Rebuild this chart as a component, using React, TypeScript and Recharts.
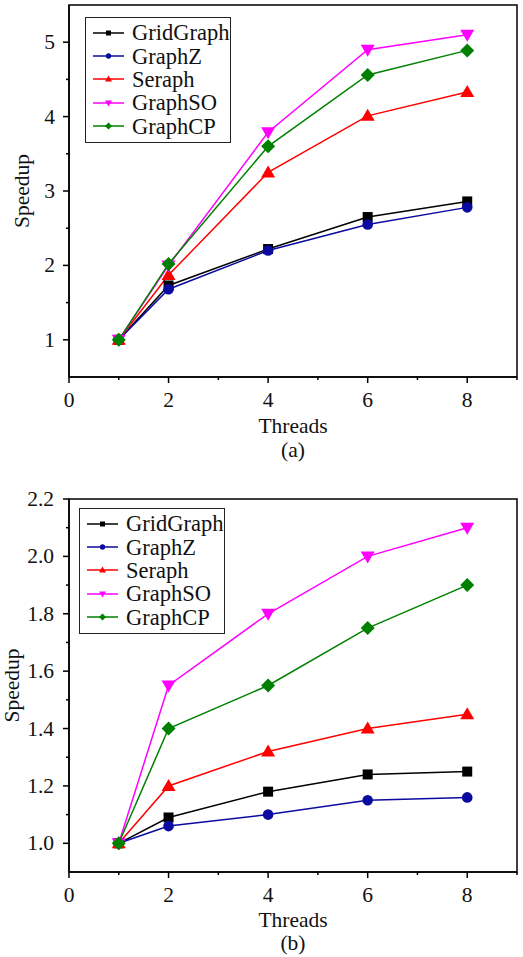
import React from "react";
import { LineChart, Line, XAxis, YAxis, Legend, ReferenceArea } from "recharts";

const FONT = '"Liberation Serif", "Times New Roman", serif';
const INK = "#111";

const threads = [1, 2, 4, 6, 8];

// panel (a)
const gridGraphA = [1.0, 1.73, 2.22, 2.65, 2.86];
const graphZA = [1.0, 1.68, 2.2, 2.55, 2.78];
const seraphA = [1.0, 1.87, 3.25, 4.01, 4.33];
const graphSOA = [1.0, 2.0, 3.79, 4.9, 5.1];
const graphCPA = [1.0, 2.02, 3.6, 4.56, 4.89];

// panel (b)
const gridGraphB = [1.0, 1.09, 1.18, 1.24, 1.25];
const graphZB = [1.0, 1.06, 1.1, 1.15, 1.16];
const seraphB = [1.0, 1.2, 1.32, 1.4, 1.45];
const graphSOB = [1.0, 1.55, 1.8, 2.0, 2.1];
const graphCPB = [1.0, 1.4, 1.55, 1.75, 1.9];

const xTicks = [0, 1, 2, 3, 4, 5, 6, 7, 8, 9];
const xLabels = [0, 2, 4, 6, 8];
const yTicksA = [1, 1.5, 2, 2.5, 3, 3.5, 4, 4.5, 5];
const yLabelsA = [1, 2, 3, 4, 5];
const yTicksB = [1.0, 1.1, 1.2, 1.3, 1.4, 1.5, 1.6, 1.7, 1.8, 1.9, 2.0, 2.1, 2.2];
const yLabelsB = [1.0, 1.2, 1.4, 1.6, 1.8, 2.0, 2.2];

type Shape = "square" | "circle" | "up" | "down" | "diamond";

const series: { key: string; name: string; color: string; shape: Shape }[] = [
  { key: "gridGraph", name: "GridGraph", color: "#000000", shape: "square" },
  { key: "graphZ", name: "GraphZ", color: "#0a0aa0", shape: "circle" },
  { key: "seraph", name: "Seraph", color: "#ff0000", shape: "up" },
  { key: "graphSO", name: "GraphSO", color: "#ff00ff", shape: "down" },
  { key: "graphCP", name: "GraphCP", color: "#008000", shape: "diamond" },
];

function buildRows(cols: number[][]) {
  return threads.map((t, i) => {
    const row: Record<string, number> = { threads: t };
    series.forEach((s, j) => (row[s.key] = cols[j][i]));
    return row;
  });
}

const rowsA = buildRows([gridGraphA, graphZA, seraphA, graphSOA, graphCPA]);
const rowsB = buildRows([gridGraphB, graphZB, seraphB, graphSOB, graphCPB]);

function Marker({ cx, cy, shape, color, s = 1 }: { cx: number; cy: number; shape: Shape; color: string; s?: number }) {
  if (shape === "square")
    return <rect x={cx - 5 * s} y={cy - 5 * s} width={10 * s} height={10 * s} fill={color} />;
  if (shape === "circle") return <circle cx={cx} cy={cy} r={5.3 * s} fill={color} />;
  let pts = "";
  if (shape === "up") pts = `${cx},${cy - 7 * s} ${cx + 7 * s},${cy + 5 * s} ${cx - 7 * s},${cy + 5 * s}`;
  if (shape === "down") pts = `${cx - 7 * s},${cy - 5 * s} ${cx + 7 * s},${cy - 5 * s} ${cx},${cy + 7 * s}`;
  if (shape === "diamond") pts = `${cx},${cy - 7 * s} ${cx + 7 * s},${cy} ${cx},${cy + 7 * s} ${cx - 7 * s},${cy}`;
  return <polygon points={pts} fill={color} />;
}

function XTick({ x, y, payload }: any) {
  const v = payload.value;
  const major = xLabels.includes(v);
  return (
    <g>
      <line x1={x} x2={x} y1={y} y2={y + (major ? 6 : 3)} stroke="#000" strokeWidth={1.5} />
      {major && (
        <text x={x} y={y + 30} textAnchor="middle" fontSize={21.5} fontFamily={FONT} fill={INK}>
          {v}
        </text>
      )}
    </g>
  );
}

function makeYTick(labels: number[], digits: number, gap: number) {
  return function YTick({ x, y, payload }: any) {
    const v = Number(payload.value);
    const major = labels.some((l) => Math.abs(l - v) < 1e-6);
    return (
      <g>
        <line x1={x} x2={x - (major ? 6 : 3)} y1={y} y2={y} stroke="#000" strokeWidth={1.5} />
        {major && (
          <text x={x - gap} y={y + 7} textAnchor="end" fontSize={21.5} fontFamily={FONT} fill={INK}>
            {v.toFixed(digits)}
          </text>
        )}
      </g>
    );
  };
}

const YTickA = makeYTick(yLabelsA, 0, 14);
const YTickB = makeYTick(yLabelsB, 1, 15);

function XCaption({ viewBox, caption, dy1, dy2 }: any) {
  const cx = viewBox.x + viewBox.width / 2;
  return (
    <g fontFamily={FONT} fontSize={21.5} fill={INK}>
      <text x={cx} y={viewBox.y + dy1} textAnchor="middle">Threads</text>
      <text x={cx} y={viewBox.y + dy2} textAnchor="middle">{caption}</text>
    </g>
  );
}

function YCaption({ viewBox, at }: any) {
  const cy = viewBox.y + viewBox.height / 2;
  return (
    <text
      transform={`translate(${at}, ${cy}) rotate(-90)`}
      textAnchor="middle"
      fontFamily={FONT}
      fontSize={21.5}
      fill={INK}
    >
      Speedup
    </text>
  );
}

function LegendBox() {
  return (
    <div
      style={{
        border: "1.5px solid #222",
        background: "#fff",
        width: 146,
        boxSizing: "border-box",
        padding: "3px 0 4px 0",
        fontFamily: FONT,
        fontSize: 22.5,
        color: INK,
        whiteSpace: "nowrap",
      }}
    >
      {series.map((s) => (
        <div key={s.key} style={{ display: "flex", alignItems: "center", height: 23.4 }}>
          <svg width={46} height={20} style={{ flex: "none" }}>
            <line x1={7} x2={38} y1={10} y2={10} stroke={s.color} strokeWidth={1.5} />
            <Marker cx={22.5} cy={10} shape={s.shape} color={s.color} s={0.5} />
          </svg>
          <span style={{ lineHeight: "23px" }}>{s.name}</span>
        </div>
      ))}
    </div>
  );
}

function Panel({
  rows,
  height,
  top,
  xHeight,
  yDomain,
  yTicks,
  YTick,
  yLabelAt,
  caption,
  legendLeft,
  legendTop,
  capDy,
}: any) {
  return (
    <LineChart
      width={523}
      height={height}
      data={rows}
      margin={{ top, right: 6, bottom: 0, left: 0 }}
      style={{ fontFamily: FONT }}
    >
      <XAxis
        dataKey="threads"
        type="number"
        domain={[0, 9]}
        ticks={xTicks}
        interval={0}
        tickSize={0}
        tickMargin={0}
        tickLine={false}
        axisLine={{ stroke: "#000", strokeWidth: 1.5 }}
        height={xHeight}
        tick={<XTick />}
        label={<XCaption caption={caption} dy1={capDy[0]} dy2={capDy[1]} />}
      />
      <YAxis
        type="number"
        domain={yDomain}
        ticks={yTicks}
        interval={0}
        tickSize={0}
        tickMargin={0}
        tickLine={false}
        allowDataOverflow
        axisLine={{ stroke: "#000", strokeWidth: 1.5 }}
        width={69}
        tick={<YTick />}
        label={<YCaption at={yLabelAt} />}
      />
      <ReferenceArea
        x1={0}
        x2={9}
        y1={yDomain[0]}
        y2={yDomain[1]}
        fill="none"
        fillOpacity={0}
        stroke="#000"
        strokeWidth={1.5}
      />
      <Legend
        layout="vertical"
        align="center"
        verticalAlign="middle"
        wrapperStyle={{ left: legendLeft, top: legendTop, width: "auto" }}
        content={() => <LegendBox />}
      />
      {series.map((s) => (
        <Line
          key={s.key}
          dataKey={s.key}
          name={s.name}
          stroke={s.color}
          strokeWidth={1.5}
          isAnimationActive={false}
          dot={(p: any) => (
            <Marker key={`${s.key}-${p.index}`} cx={p.cx} cy={p.cy} shape={s.shape} color={s.color} />
          )}
          activeDot={false}
        />
      ))}
    </LineChart>
  );
}

export default function App() {
  return (
    <div style={{ position: "absolute", left: 0, top: 0, width: 523, background: "#fff" }}>
      <Panel
        rows={rowsA}
        height={480}
        top={5}
        xHeight={103}
        yDomain={[0.5, 5.5]}
        yTicks={yTicksA}
        YTick={YTickA}
        yLabelAt={29}
        caption="(a)"
        legendLeft={85}
        legendTop={17}
        capDy={[56, 80]}
      />
      <Panel
        rows={rowsB}
        height={477}
        top={19}
        xHeight={85}
        yDomain={[0.9, 2.2]}
        yTicks={yTicksB}
        YTick={YTickB}
        yLabelAt={19}
        caption="(b)"
        legendLeft={79}
        legendTop={28}
        capDy={[55, 78]}
      />
    </div>
  );
}
